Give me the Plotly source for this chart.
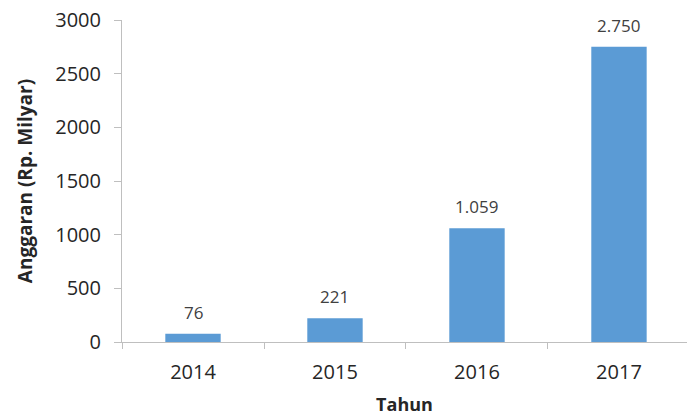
import plotly.graph_objects as go

# Anggaran per tahun (Rp. Milyar)
tahun = ["2014", "2015", "2016", "2017"]
anggaran = [76, 221, 1059, 2750]

y_ticks = [0, 500, 1000, 1500, 2000, 2500, 3000]

bar_color = "#5B9BD5"
axis_color = "#BFBFBF"
text_color = "#262626"
font_family = "Open Sans, Carlito, Liberation Sans, sans-serif"

fig = go.Figure()
fig.add_trace(go.Bar(
    x=tahun,
    y=anggaran,
    marker=dict(color=bar_color, line=dict(width=0)),
    width=0.39,
    hoverinfo="x+y",
))

# value labels above each bar, using Indonesian thousands separator
for i, v in enumerate(anggaran):
    fig.add_annotation(
        x=i, y=v, xref="x", yref="y",
        text=f"{v:,}".replace(",", "."),
        showarrow=False, yanchor="bottom", yshift=8,
        font=dict(family=font_family, size=17, color="#404040"),
    )

fig.update_layout(
    width=687, height=417,
    margin=dict(l=122, r=0, t=20, b=75),
    paper_bgcolor="white", plot_bgcolor="white",
    showlegend=False,
    font=dict(family=font_family, color=text_color),
    xaxis=dict(
        type="category",
        range=[-0.5, 3.479],
        showline=True, linecolor=axis_color, linewidth=1,
        ticks="outside", tickson="boundaries", ticklen=6, tickcolor=axis_color,
        ticklabelstandoff=12,
        tickfont=dict(size=20, color=text_color),
        showgrid=False, zeroline=False,
        title=dict(text="<b>Tahun</b>", font=dict(size=18, color=text_color), standoff=14),
    ),
    yaxis=dict(
        range=[0, 3000],
        tickvals=y_ticks,
        showline=True, linecolor=axis_color, linewidth=1,
        ticks="outside", ticklen=7, tickcolor=axis_color,
        ticklabelstandoff=9,
        tickfont=dict(size=20, color=text_color),
        showgrid=False, zeroline=False,
        title=dict(text="<b>Anggaran (Rp. Milyar)</b>", font=dict(size=19, color=text_color), standoff=17),
    ),
)

fig.write_html("out.html")
